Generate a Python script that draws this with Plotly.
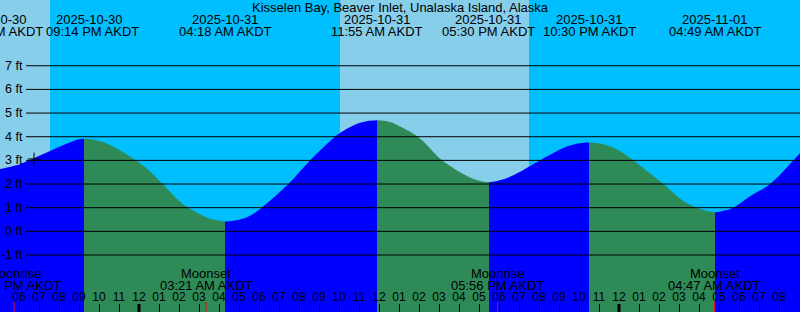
import pandas as pd
import plotly.graph_objects as go

# ---------------- data ----------------
location = "Kisselen Bay, Beaver Inlet, Unalaska Island, Alaska"

# tide extremes (high / low)
tide_times = ["2025-10-30 16:51", "2025-10-30 21:14", "2025-10-31 04:18",
              "2025-10-31 11:55", "2025-10-31 17:30", "2025-10-31 22:30",
              "2025-11-01 04:49"]
tide_kind = ["L", "H", "L", "H", "L", "H", "L"]
tide_ft = [2.62, 3.91, 0.42, 4.70, 2.08, 3.76, 0.81]
tide_date_labels = ["2025-10-30", "2025-10-30", "2025-10-31", "2025-10-31",
                    "2025-10-31", "2025-10-31", "2025-11-01"]
tide_time_labels = ["04:51 PM AKDT", "09:14 PM AKDT", "04:18 AM AKDT",
                    "11:55 AM AKDT", "05:30 PM AKDT", "10:30 PM AKDT",
                    "04:49 AM AKDT"]

# water level read between the extremes
reading_times = ["2025-10-30 17:03", "2025-10-30 18:03", "2025-10-30 18:28",
                 "2025-10-30 19:33", "2025-10-30 20:23", "2025-10-30 20:48",
                 "2025-10-30 22:03", "2025-10-30 22:43", "2025-10-30 23:51",
                 "2025-10-31 00:23", "2025-10-31 01:11", "2025-10-31 02:03",
                 "2025-10-31 02:28", "2025-10-31 03:23", "2025-10-31 03:48",
                 "2025-10-31 05:03", "2025-10-31 05:33", "2025-10-31 06:08",
                 "2025-10-31 07:28", "2025-10-31 08:33", "2025-10-31 09:48",
                 "2025-10-31 10:03", "2025-10-31 11:03", "2025-10-31 12:33",
                 "2025-10-31 13:03", "2025-10-31 14:03", "2025-10-31 15:08",
                 "2025-10-31 16:23", "2025-10-31 16:53", "2025-10-31 18:13",
                 "2025-10-31 18:53", "2025-10-31 20:03", "2025-10-31 21:18",
                 "2025-10-31 21:53", "2025-10-31 23:03", "2025-10-31 23:53",
                 "2025-11-01 00:43", "2025-11-01 02:13", "2025-11-01 03:13",
                 "2025-11-01 03:53", "2025-11-01 05:13", "2025-11-01 05:43",
                 "2025-11-01 06:33", "2025-11-01 07:33", "2025-11-01 08:43",
                 "2025-11-01 09:03"]
reading_ft = [2.64, 2.84, 2.99, 3.40, 3.70, 3.84,
              3.81, 3.58, 3.00,
              2.66, 2.00, 1.25,
              1.00, 0.59, 0.49,
              0.50, 0.66, 1.00,
              2.00, 3.00, 4.00,
              4.16, 4.59, 4.62,
              4.43, 3.93, 3.02,
              2.35, 2.17, 2.20,
              2.45, 3.00, 3.55,
              3.70, 3.71, 3.47,
              3.00, 2.00, 1.28,
              1.00, 0.87, 1.00,
              1.48, 2.00, 3.00,
              3.30]

# moon events
moon_times = ["2025-10-30 17:45", "2025-10-31 03:21", "2025-10-31 17:56",
              "2025-11-01 04:47"]
moon_events = ["Moonrise", "Moonset", "Moonrise", "Moonset"]
moon_time_labels = ["05:45 PM AKDT", "03:21 AM AKDT", "05:56 PM AKDT",
                    "04:47 AM AKDT"]

# sun: night intervals (sunset -> sunrise)
sunset_times = ["2025-10-30 19:33", "2025-10-31 19:30"]
sunrise_times = ["2025-10-31 10:03", None]

# current level marker
now_time = "2025-10-30 18:45"
now_ft = 3.06

# axes
x_start = "2025-10-30 17:03"
x_end = "2025-11-01 09:03"
midnights = ["2025-10-31 00:00", "2025-11-01 00:00"]
ft_ticks = [-1, 0, 1, 2, 3, 4, 5, 6, 7]
ft_labels = ["-1 ft", "0 ft", "1 ft", "2 ft", "3 ft", "4 ft", "5 ft", "6 ft", "7 ft"]
y_range = [-3.41, 9.78]

# ---------------- styles ----------------
W, H = 800, 312
DAY = "#87CEEB"
NIGHT = "#00BFFF"
FLOOD = "#0000FF"
EBB = "#2E8B57"
FONT = "Liberation Sans, Arial, sans-serif"


def py(p):
    """pixel row -> paper y"""
    return 1 - p / H


curve = pd.DataFrame({"t": pd.to_datetime(reading_times + tide_times),
                      "ft": reading_ft + tide_ft}).sort_values("t")
t0, t1 = curve["t"].min(), curve["t"].max()
xr0, xr1 = pd.Timestamp(x_start), pd.Timestamp(x_end)

# gradient stops: rising (after low) blue, falling (after high) green
ext = sorted(zip(pd.to_datetime(tide_times), tide_kind))
scale = []
for i, (te, k) in enumerate(ext):
    c = FLOOD if k == "L" else EBB
    f0 = (te - t0) / (t1 - t0)
    f1 = (ext[i + 1][0] - t0) / (t1 - t0) if i + 1 < len(ext) else 1.0
    scale.append([f0, c])
    scale.append([f1, c])

fig = go.Figure()
fig.add_trace(go.Scatter(x=[t0, t1], y=[-6, -6], mode="lines",
                         line=dict(width=0), hoverinfo="skip", showlegend=False))
fig.add_trace(go.Scatter(x=curve["t"], y=curve["ft"], mode="lines",
                         line=dict(width=0, shape="spline", smoothing=1),
                         fill="tonexty", fillcolor=FLOOD,
                         fillgradient=dict(type="horizontal", colorscale=scale),
                         hoverinfo="skip", showlegend=False))
fig.add_trace(go.Scatter(x=[pd.Timestamp(now_time)], y=[now_ft], mode="markers",
                         marker=dict(symbol="cross-thin", size=9,
                                     line=dict(color="black", width=1)),
                         hoverinfo="skip", showlegend=False))

shapes = []
for ss, sr in zip(sunset_times, sunrise_times):
    shapes.append(dict(type="rect", xref="x", yref="paper",
                       x0=pd.Timestamp(ss), x1=pd.Timestamp(sr) if sr else xr1,
                       y0=0, y1=1, fillcolor=NIGHT, line=dict(width=0),
                       layer="below"))
for v in ft_ticks:
    shapes.append(dict(type="line", xref="paper", yref="y", x0=26 / W, x1=1,
                       y0=v, y1=v, line=dict(color="black", width=1),
                       layer="above"))
for m in midnights:
    shapes.append(dict(type="line", xref="x", yref="paper", x0=m, x1=m,
                       y0=0, y1=8 / H, line=dict(color="black", width=3),
                       layer="above"))
for m in moon_times:
    shapes.append(dict(type="line", xref="x", yref="paper", x0=m, x1=m,
                       y0=0, y1=10 / H, line=dict(color="red", width=1),
                       layer="above"))

ann = []
tf = dict(family=FONT, size=13, color="black")
ann.append(dict(text=location, xref="paper", yref="paper", x=0.5, y=py(7),
                showarrow=False, font=tf, xanchor="center", yanchor="middle"))
date_shift = [-3, 5.5, 0, 0, 0, 0, 0]
time_shift = [0, 9, 0, 0, 0, 0, 0]
for t, d, s, ds, ts in zip(tide_times, tide_date_labels, tide_time_labels,
                           date_shift, time_shift):
    fx = (pd.Timestamp(t) - xr0) / (xr1 - xr0)
    ann.append(dict(text=d, xref="paper", yref="paper", x=fx, y=py(19.5),
                    xshift=ds, showarrow=False, font=tf, xanchor="center",
                    yanchor="middle"))
    ann.append(dict(text=s, xref="paper", yref="paper", x=fx, y=py(31.7),
                    xshift=ts, showarrow=False, font=tf, xanchor="center",
                    yanchor="middle"))
for t, e, s in zip(moon_times, moon_events, moon_time_labels):
    fx = (pd.Timestamp(t) - xr0) / (xr1 - xr0)
    ann.append(dict(text=e, xref="paper", yref="paper", x=fx, y=py(273.8),
                    showarrow=False, font=tf, xanchor="center", yanchor="middle"))
    ann.append(dict(text=s, xref="paper", yref="paper", x=fx, y=py(285.3),
                    showarrow=False, font=tf, xanchor="center", yanchor="middle"))
for v, lab in zip(ft_ticks, ft_labels):
    ann.append(dict(text=lab, xref="paper", yref="y", x=24.5 / W, y=v,
                    showarrow=False, font=dict(family=FONT, size=12.5, color="black"),
                    xanchor="right", yanchor="middle", xshift=0))

fig.update_layout(
    width=W, height=H, margin=dict(l=0, r=0, t=0, b=0, pad=0),
    paper_bgcolor=DAY, plot_bgcolor=DAY, showlegend=False,
    shapes=shapes, annotations=ann,
    xaxis=dict(type="date", range=[x_start, x_end], showgrid=False,
               zeroline=False, showline=False, dtick=3600000,
               tick0="2025-10-31 00:00", tickformat="%I", ticks="inside",
               ticklen=8, tickwidth=1, tickcolor="black",
               ticklabelposition="inside",
               tickfont=dict(family=FONT, size=12, color="black"),
               fixedrange=True),
    yaxis=dict(range=y_range, showgrid=False, zeroline=False,
               showticklabels=False, ticks="", fixedrange=True),
)
fig.write_html("out.html", config={"displayModeBar": False})
